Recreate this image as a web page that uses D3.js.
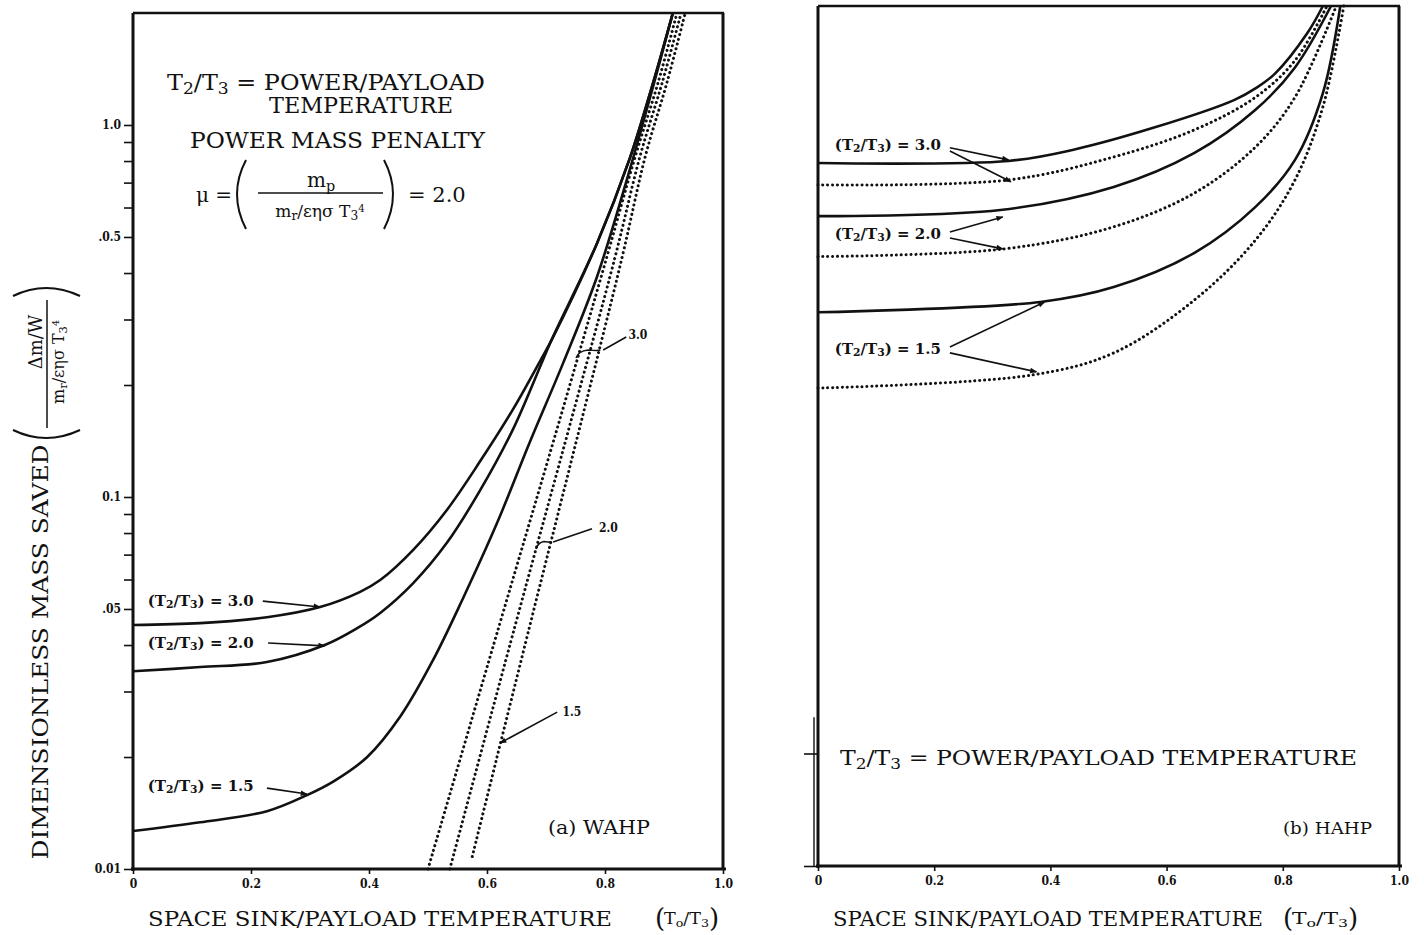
<!DOCTYPE html>
<html>
<head>
<meta charset="utf-8">
<script src="https://cdn.jsdelivr.net/npm/d3@7.9.0/dist/d3.min.js"></script>
<style>
  body { margin: 0; background: #fff; }
  svg { display: block; }
  .serif { font-family: "DejaVu Serif", "Liberation Serif", serif; fill: #111; }
  .note { font-family: "DejaVu Serif Condensed", "DejaVu Serif", serif; font-weight: bold; fill: #111; }
  .tick text { font-family: "DejaVu Serif Condensed", "DejaVu Serif", serif; font-weight: bold; font-size: 12px; fill: #111; }
  .tick line { stroke: #111; stroke-width: 1.6; }
  .domain { display: none; }
</style>
</head>
<body>
<svg width="1424" height="935"></svg>
<script>
// ---- data (x = T0/T3, y = dimensionless mass saved) ----
const xTickValues = [0, 0.2, 0.4, 0.6, 0.8, 1.0];
const xTickLabels = ['0', '0.2', '0.4', '0.6', '0.8', '1.0'];

const yTickValues = [0.01, 0.02, 0.03, 0.04, 0.05, 0.06, 0.07, 0.08, 0.09,
                     0.1, 0.2, 0.3, 0.4, 0.5, 0.6, 0.7, 0.8, 0.9, 1.0];
const yLabelValues = [0.01, 0.05, 0.1, 0.5, 1.0];
const yLabelTexts = ['0.01', '.05', '0.1', '.0.5', '1.0'];
const hahpYTickValues = [0.01, 0.02];

const ratios = ['3.0', '2.0', '1.5'];

// (a) WAHP, solid curves
const wahpSolid30 = [[0, 0.0453], [0.114, 0.0458], [0.227, 0.0475], [0.317, 0.0506], [0.385, 0.0556],
  [0.419, 0.0598], [0.475, 0.0721], [0.532, 0.0923], [0.588, 0.1245], [0.644, 0.172], [0.69, 0.232],
  [0.712, 0.269], [0.786, 0.479], [0.842, 0.813], [0.881, 1.29], [0.915, 2.0]];
const wahpSolid20 = [[0, 0.034], [0.114, 0.0349], [0.227, 0.036], [0.325, 0.04], [0.38, 0.0444],
  [0.419, 0.0488], [0.475, 0.0587], [0.532, 0.0753], [0.588, 0.104], [0.644, 0.152], [0.695, 0.234],
  [0.712, 0.27], [0.786, 0.479], [0.842, 0.813], [0.881, 1.29], [0.915, 2.0]];
const wahpSolid15 = [[0, 0.01265], [0.114, 0.01335], [0.227, 0.0143], [0.295, 0.0158], [0.34, 0.0172],
  [0.397, 0.02], [0.453, 0.0257], [0.508, 0.0363], [0.56, 0.0537], [0.617, 0.0851], [0.673, 0.141],
  [0.729, 0.229], [0.786, 0.389], [0.842, 0.759], [0.881, 1.26], [0.915, 2.0]];

// (a) WAHP, dotted curves
const wahpDot30 = [[0.5, 0.01], [0.62, 0.0447], [0.718, 0.151], [0.803, 0.441], [0.851, 0.82],
  [0.89, 1.3], [0.922, 2.0]];
const wahpDot20 = [[0.537, 0.01], [0.647, 0.0447], [0.738, 0.151], [0.817, 0.441], [0.859, 0.82],
  [0.897, 1.3], [0.929, 2.0]];
const wahpDot15 = [[0.575, 0.0108], [0.672, 0.0447], [0.756, 0.151], [0.829, 0.441], [0.868, 0.82],
  [0.905, 1.3], [0.936, 2.0]];

// (b) HAHP, solid curves
const hahpSolid30 = [[0, 0.76], [0.328, 0.77], [0.438, 0.824], [0.577, 0.944], [0.716, 1.12],
  [0.755, 1.21], [0.787, 1.32], [0.842, 1.69], [0.869, 2.0]];
const hahpSolid20 = [[0, 0.548], [0.314, 0.569], [0.509, 0.656], [0.648, 0.809], [0.753, 1.055],
  [0.821, 1.37], [0.883, 2.0]];
const hahpSolid15 = [[0, 0.303], [0.383, 0.323], [0.509, 0.354], [0.648, 0.437], [0.753, 0.58],
  [0.821, 0.775], [0.869, 1.17], [0.899, 2.0]];

// (b) HAHP, dotted curves
const hahpDot30 = [[0, 0.664], [0.328, 0.685], [0.509, 0.789], [0.648, 0.933], [0.753, 1.14],
  [0.821, 1.43], [0.876, 2.0]];
const hahpDot20 = [[0, 0.427], [0.321, 0.448], [0.509, 0.513], [0.648, 0.632], [0.753, 0.839],
  [0.821, 1.14], [0.892, 2.0]];
const hahpDot15 = [[0, 0.19], [0.369, 0.206], [0.509, 0.236], [0.648, 0.327], [0.753, 0.473],
  [0.821, 0.685], [0.869, 1.074], [0.905, 2.0]];

// ---- setup ----
const svg = d3.select('svg');

const defs = svg.append('defs');
defs.append('marker')
  .attr('id', 'ah')
  .attr('viewBox', '0 0 10 10')
  .attr('refX', 9).attr('refY', 5)
  .attr('markerWidth', 9).attr('markerHeight', 7)
  .attr('markerUnits', 'userSpaceOnUse')
  .attr('orient', 'auto')
  .append('path')
  .attr('d', 'M0,1 L10,5 L0,9 Z')
  .attr('fill', '#111');

const xA = d3.scaleLinear().domain([0, 1]).range([133, 723]);
const yA = d3.scaleLog().domain([0.01, 2]).range([869, 13]);
const xB = d3.scaleLinear().domain([0, 1]).range([818, 1399]);
const yB = d3.scaleLog().domain([0.01, 2]).range([866, 6]);

// rich text helper: parts = [[string, kind]] kind: undefined | 'sub' | 'sup'
function rich(sel, parts, size) {
  parts.forEach(([s, kind]) => {
    const t = sel.append('tspan').text(s);
    if (kind === 'sub') t.attr('font-size', size * 0.72).attr('baseline-shift', '-28%');
    if (kind === 'sup') t.attr('font-size', size * 0.6).attr('baseline-shift', '55%');
  });
  return sel;
}

function addText(x, y, parts, size, cls, opts = {}) {
  const t = svg.append('text')
    .attr('class', cls)
    .attr('x', x).attr('y', y)
    .attr('font-size', size);
  if (opts.anchor) t.attr('text-anchor', opts.anchor);
  if (opts.len) t.attr('textLength', opts.len).attr('lengthAdjust', 'spacingAndGlyphs');
  return rich(t, parts, size);
}

function drawPanel(x, y, solids, dots, yTicks, labelled) {
  const g = svg.append('g');
  const line = d3.line()
    .x(d => x(d[0]))
    .y(d => y(d[1]))
    .curve(d3.curveCatmullRom.alpha(0.5));

  g.selectAll('path.solid')
    .data(solids)
    .join('path')
    .attr('class', 'solid')
    .attr('d', line)
    .attr('fill', 'none')
    .attr('stroke', '#111')
    .attr('stroke-width', 2.6);

  g.selectAll('path.dot')
    .data(dots)
    .join('path')
    .attr('class', 'dot')
    .attr('d', line)
    .attr('fill', 'none')
    .attr('stroke', '#111')
    .attr('stroke-width', 3)
    .attr('stroke-linecap', 'round')
    .attr('stroke-dasharray', '0.1 4.8');

  // axes
  const y0 = y(0.01);
  svg.append('g')
    .attr('transform', `translate(0,${y0})`)
    .call(d3.axisBottom(x).tickValues(xTickValues).tickSize(5).tickPadding(5)
      .tickFormat((d, i) => xTickLabels[i]));

  svg.append('g')
    .attr('transform', `translate(${x(0)},0)`)
    .call(d3.axisLeft(y).tickValues(yTicks).tickSize(labelled ? 9 : 14).tickPadding(3)
      .tickFormat(d => {
        if (!labelled) return '';
        const i = yLabelValues.findIndex(v => Math.abs(v - d) < 1e-9);
        return i >= 0 ? yLabelTexts[i] : '';
      }));

  // frame
  const [xl, xr] = x.range();
  const yt = y(2);
  const frame = svg.append('g').attr('stroke', '#111').attr('fill', 'none');
  frame.append('line').attr('x1', xl).attr('x2', xl).attr('y1', yt).attr('y2', y0 + 2).attr('stroke-width', 3);
  frame.append('line').attr('x1', xl - 2).attr('x2', xr + 3).attr('y1', y0).attr('y2', y0).attr('stroke-width', 3);
  frame.append('line').attr('x1', xl).attr('x2', xr + 1).attr('y1', yt).attr('y2', yt).attr('stroke-width', 2.4);
  frame.append('line').attr('x1', xr).attr('x2', xr).attr('y1', yt).attr('y2', y0).attr('stroke-width', 3);
}

drawPanel(xA, yA, [wahpSolid30, wahpSolid20, wahpSolid15], [wahpDot30, wahpDot20, wahpDot15], yTickValues, true);
drawPanel(xB, yB, [hahpSolid30, hahpSolid20, hahpSolid15], [hahpDot30, hahpDot20, hahpDot15], hahpYTickValues, false);

// second (double) left line of panel b
svg.append('line')
  .attr('x1', xB(0) - 4).attr('x2', xB(0) - 4)
  .attr('y1', yB(0.025)).attr('y2', yB(0.01))
  .attr('stroke', '#111').attr('stroke-width', 1.4);

// ---- annotations ----
function arrow(x, y, from, to, head = true) {
  const l = svg.append('line')
    .attr('x1', x(from[0])).attr('y1', y(from[1]))
    .attr('x2', x(to[0])).attr('y2', y(to[1]))
    .attr('stroke', '#111').attr('stroke-width', 1.6);
  if (head) l.attr('marker-end', 'url(#ah)');
}

function ratioLabel(x, y, pos, r) {
  addText(x(pos[0]), y(pos[1]), [['(T'], ['2', 'sub'], ['/T'], ['3', 'sub'], [') = ' + r]], 14, 'note', { len: 106 })
    .attr('dominant-baseline', 'middle');
}

// panel a, solid curve labels
const wahpNotes = [
  { pos: [0.025, 0.0522], from: [0.22, 0.0525], to: [0.317, 0.0506] },
  { pos: [0.025, 0.0403], from: [0.229, 0.0405], to: [0.325, 0.0398] },
  { pos: [0.025, 0.0166], from: [0.227, 0.0165], to: [0.295, 0.0159] }
];
wahpNotes.forEach((n, i) => {
  ratioLabel(xA, yA, n.pos, ratios[i]);
  arrow(xA, yA, n.from, n.to);
});

// panel a, dotted curve labels
const wahpDotNotes = [
  { pos: [0.84, 0.2726], from: [0.836, 0.2693], to: [0.797, 0.2485], brace: [[0.751, 0.2364], [0.792, 0.2485]] },
  { pos: [0.79, 0.0826], from: [0.778, 0.0821], to: [0.712, 0.0757], brace: [[0.683, 0.0725], [0.71, 0.0757]] },
  { pos: [0.728, 0.0264], from: [0.719, 0.0264], to: [0.622, 0.0218] }
];
wahpDotNotes.forEach((n, i) => {
  addText(xA(n.pos[0]), yA(n.pos[1]), [[ratios[i]]], 12, 'note').attr('dominant-baseline', 'middle');
  arrow(xA, yA, n.from, n.to, !n.brace);
  if (n.brace) {
    const p1 = [xA(n.brace[0][0]), yA(n.brace[0][1])];
    const p2 = [xA(n.brace[1][0]), yA(n.brace[1][1])];
    const m = [(p1[0] + p2[0]) / 2, (p1[1] + p2[1]) / 2 - 4];
    const p = d3.path();
    p.moveTo(p1[0], p1[1]);
    p.quadraticCurveTo(p1[0] + 2, m[1] + 1, m[0], m[1]);
    p.quadraticCurveTo(p2[0] - 2, m[1] + 1, p2[0], p2[1]);
    svg.append('path').attr('d', p.toString()).attr('fill', 'none')
      .attr('stroke', '#111').attr('stroke-width', 1.6);
  }
});

// panel b labels: each points at solid and dotted curve
const hahpNotes = [
  { pos: [0.029, 0.845], solid: [[0.227, 0.835], [0.328, 0.775]], dot: [[0.227, 0.819], [0.332, 0.677]] },
  { pos: [0.029, 0.488], solid: [[0.227, 0.497], [0.318, 0.5454]], dot: [[0.227, 0.479], [0.318, 0.448]] },
  { pos: [0.029, 0.2403], solid: [[0.227, 0.2447], [0.39, 0.323]], dot: [[0.227, 0.236], [0.376, 0.2099]] }
];
hahpNotes.forEach((n, i) => {
  ratioLabel(xB, yB, n.pos, ratios[i]);
  arrow(xB, yB, n.solid[0], n.solid[1]);
  arrow(xB, yB, n.dot[0], n.dot[1]);
});

// ---- text blocks ----
addText(167, 90, [['T'], ['2', 'sub'], ['/T'], ['3', 'sub'], [' = POWER/PAYLOAD']], 22, 'serif', { len: 318 });
addText(269, 113, [['TEMPERATURE']], 22, 'serif', { len: 184 });
addText(190, 148, [['POWER MASS PENALTY']], 22, 'serif', { len: 295 });

// mu formula
addText(196, 202, [['μ =']], 20, 'serif');
addText(321, 187, [['m'], ['p', 'sub']], 20, 'serif', { anchor: 'middle' });
addText(320, 217, [['m'], ['r', 'sub'], ['/εησ T'], ['3', 'sub'], ['4', 'sup']], 17, 'serif', { anchor: 'middle' });
svg.append('line').attr('x1', 258).attr('x2', 383).attr('y1', 193).attr('y2', 193)
  .attr('stroke', '#111').attr('stroke-width', 1.5);
svg.append('path').attr('d', 'M246,160 Q228,194 246,229').attr('fill', 'none').attr('stroke', '#111').attr('stroke-width', 2);
svg.append('path').attr('d', 'M384,160 Q402,194 384,229').attr('fill', 'none').attr('stroke', '#111').attr('stroke-width', 2);
addText(408, 202, [['= 2.0']], 21, 'serif');

// panel b caption
addText(840, 765, [['T'], ['2', 'sub'], ['/T'], ['3', 'sub'], [' = POWER/PAYLOAD TEMPERATURE']], 21, 'serif', { len: 517 });
addText(1283, 834, [['(b)  HAHP']], 17, 'serif', { len: 89 });
addText(548, 834, [['(a)  WAHP']], 18, 'serif', { len: 102 });

// x axis titles
function xTitle(x0, len, px0, px1) {
  addText(x0, 926, [['SPACE SINK/PAYLOAD TEMPERATURE']], 21, 'serif', { len: len });
  addText(px0, 927, [['(']], 26, 'serif');
  addText(px0 + 9, 924, [['T'], ['o', 'sub'], ['/T'], ['3', 'sub']], 16, 'serif', { len: px1 - px0 - 18 });
  addText(px1 - 9, 927, [[')']], 26, 'serif');
}
xTitle(148, 464, 655, 718);
xTitle(833, 430, 1283, 1357);

// y axis title (rotated)
const yt = svg.append('g').attr('transform', 'translate(40,0) rotate(-90)');
yt.append('text').attr('class', 'serif')
  .attr('x', -652).attr('y', 8)
  .attr('text-anchor', 'middle')
  .attr('font-size', 22)
  .attr('textLength', 415).attr('lengthAdjust', 'spacingAndGlyphs')
  .text('DIMENSIONLESS MASS SAVED');
rich(yt.append('text').attr('class', 'serif').attr('x', -342).attr('y', 2)
  .attr('text-anchor', 'middle').attr('font-size', 18), [['Δm/W']], 18);
rich(yt.append('text').attr('class', 'serif').attr('x', -362).attr('y', 24)
  .attr('text-anchor', 'middle').attr('font-size', 16),
  [['m'], ['r', 'sub'], ['/εησ T'], ['3', 'sub'], ['4', 'sup']], 16);
yt.append('line').attr('x1', -300).attr('x2', -428).attr('y1', 7).attr('y2', 7)
  .attr('stroke', '#111').attr('stroke-width', 1.5);
yt.append('path').attr('d', 'M-430,-27 Q-446,6 -430,40').attr('fill', 'none').attr('stroke', '#111').attr('stroke-width', 2);
yt.append('path').attr('d', 'M-296,-27 Q-280,6 -296,40').attr('fill', 'none').attr('stroke', '#111').attr('stroke-width', 2);
</script>
</body>
</html>
